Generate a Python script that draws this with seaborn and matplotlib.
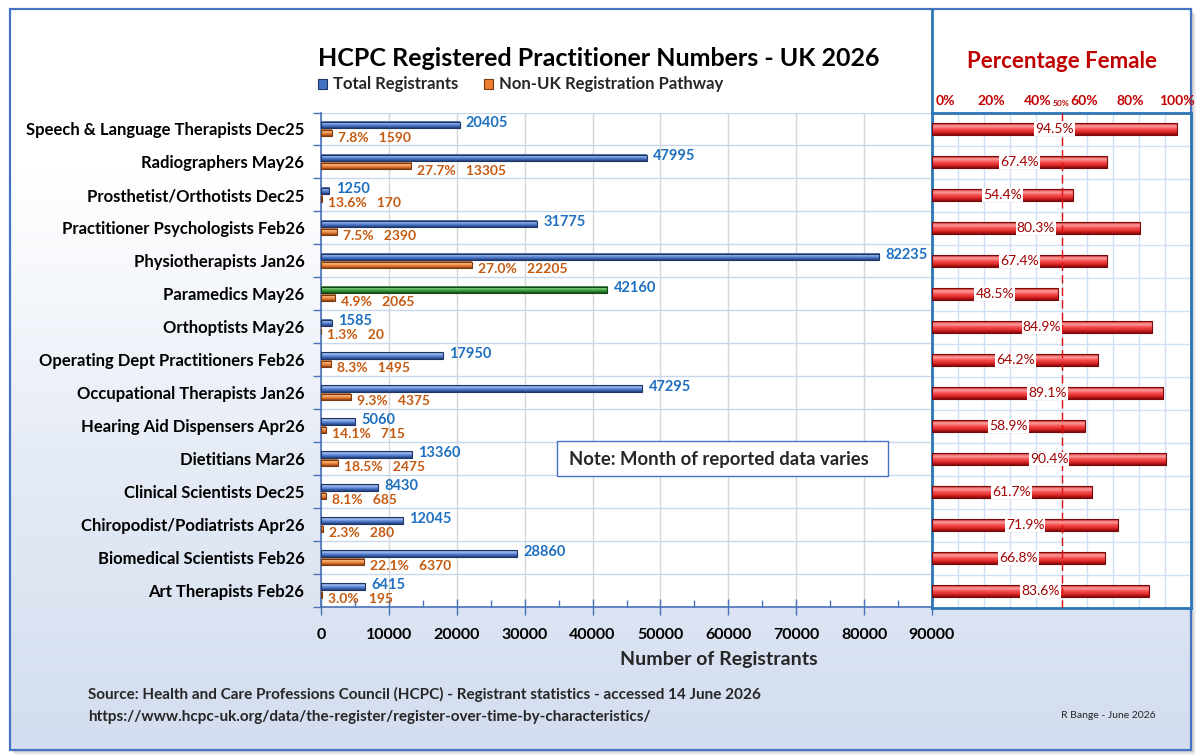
import numpy as np
import pandas as pd
import matplotlib
matplotlib.use("Agg")
import matplotlib.pyplot as plt
from matplotlib.colors import LinearSegmentedColormap
from matplotlib.patches import Rectangle
from matplotlib.lines import Line2D
import seaborn as sns

# ---------------- data ----------------
categories = [
    "Speech & Language Therapists Dec25",
    "Radiographers May26",
    "Prosthetist/Orthotists Dec25",
    "Practitioner Psychologists Feb26",
    "Physiotherapists Jan26",
    "Paramedics May26",
    "Orthoptists May26",
    "Operating Dept Practitioners Feb26",
    "Occupational Therapists Jan26",
    "Hearing Aid Dispensers Apr26",
    "Dietitians Mar26",
    "Clinical Scientists Dec25",
    "Chiropodist/Podiatrists Apr26",
    "Biomedical Scientists Feb26",
    "Art Therapists Feb26",
]
total_registrants = [20405, 47995, 1250, 31775, 82235, 42160, 1585, 17950,
                     47295, 5060, 13360, 8430, 12045, 28860, 6415]
non_uk_registrants = [1590, 13305, 170, 2390, 22205, 2065, 20, 1495,
                      4375, 715, 2475, 685, 280, 6370, 195]
non_uk_pct = [7.8, 27.7, 13.6, 7.5, 27.0, 4.9, 1.3, 8.3, 9.3, 14.1, 18.5,
              8.1, 2.3, 22.1, 3.0]
female_pct = [94.5, 67.4, 54.4, 80.3, 67.4, 48.5, 84.9, 64.2, 89.1, 58.9,
              90.4, 61.7, 71.9, 66.8, 83.6]
highlight_category = "Paramedics May26"
series_names = ["Total Registrants", "Non-UK Registration Pathway"]
x_ticks = [0, 10000, 20000, 30000, 40000, 50000, 60000, 70000, 80000, 90000]
pct_ticks = [0, 20, 40, 60, 80, 100]

# ---------------- style ----------------
sns.set_theme(style="white")
plt.rcParams["font.family"] = ["Lato", "DejaVu Sans"]

W, H = 1200, 756
fig = plt.figure(figsize=(W / 100, H / 100), dpi=100)
fig.patch.set_facecolor("white")


def fa(l, t, r, b):
    return [l / W, 1 - b / H, (r - l) / W, (b - t) / H]


GRAD = {
    "blue": ["#35589e", "#a9c3f0", "#6891dc", "#4069b9", "#233d78"],
    "orange": ["#b8602a", "#ffc894", "#f59b52", "#dc742f", "#874012"],
    "green": ["#2b772b", "#95dc95", "#4fb24f", "#2f8c2f", "#184c18"],
    "red": ["#c81818", "#ffa0a0", "#f45050", "#e02828", "#860a0a"],
}
EDGE = {"blue": "#1f3563", "orange": "#7a3a10", "green": "#164416", "red": "#7a0a0a"}


def grad_fill(ax, patch, key):
    x0, y0 = patch.get_x(), patch.get_y()
    w, h = patch.get_width(), patch.get_height()
    cmap = LinearSegmentedColormap.from_list("g_" + key, GRAD[key])
    arr = np.linspace(0, 1, 64).reshape(-1, 1)
    ax.imshow(arr, cmap=cmap, extent=[x0, x0 + w, y0 + h, y0], aspect="auto",
              origin="upper", zorder=3, interpolation="bilinear")
    patch.set_facecolor("none")
    patch.set_edgecolor(EDGE[key])
    patch.set_linewidth(0.8)
    patch.set_zorder(4)


# ---------------- background card ----------------
bg = fig.add_axes([0, 0, 1, 1], zorder=-10)
bg.set_xlim(0, W)
bg.set_ylim(H, 0)
bg.axis("off")
for off, a in [(5, 0.06), (4, 0.08), (3, 0.10), (2, 0.12)]:
    bg.add_patch(Rectangle((10 + off, 9 + off), 1181, 741, facecolor="#606060",
                           alpha=a, edgecolor="none"))
card_cmap = LinearSegmentedColormap.from_list(
    "card", [(0, "#ffffff"), (0.22, "#ffffff"), (0.6, "#e6ecf6"), (1, "#d3ddef")])
bg.imshow(np.linspace(0, 1, 256).reshape(-1, 1), cmap=card_cmap,
          extent=[10, 1191, 750, 9], aspect="auto", origin="upper", zorder=1)
bg.add_patch(Rectangle((10, 9), 1181, 741, facecolor="none", edgecolor="#4472c4",
                       lw=1.6, zorder=2))
bg.set_xlim(0, W)
bg.set_ylim(H, 0)

# ---------------- left chart ----------------
axL = fig.add_axes(fa(321, 112.5, 932, 607))
axL.set_facecolor("white")
df = pd.DataFrame({
    "category": categories * 2,
    "value": total_registrants + non_uk_registrants,
    "series": [series_names[0]] * len(categories) + [series_names[1]] * len(categories),
})
sns.barplot(data=df, x="value", y="category", hue="series", hue_order=series_names,
            orient="h", dodge=True, width=0.5, palette=["#4472c4", "#ed7d31"],
            legend=False, ax=axL, errorbar=None)

for p in list(axL.patches):
    c = p.get_y() + p.get_height() / 2
    idx = int(round(c))
    is_total = c < idx
    nh = 0.19
    p.set_y(c - nh / 2)
    p.set_height(nh)
    if is_total:
        key = "green" if categories[idx] == highlight_category else "blue"
    else:
        key = "orange"
    grad_fill(axL, p, key)

for i in range(len(categories)):
    axL.text(total_registrants[i] + 950, i - 0.18, f"{total_registrants[i]}",
             color="#1f70c1", fontsize=10.5, fontweight="bold", ha="left", va="center",
             zorder=6)
    axL.text(non_uk_registrants[i] + 900, i + 0.26,
             f"{non_uk_pct[i]:.1f}%   {non_uk_registrants[i]}",
             color="#c55a11", fontsize=10, fontweight="bold", ha="left", va="center",
             zorder=6)

axL.set_xlim(0, 90000)
axL.set_ylim(len(categories) - 0.5, -0.5)
axL.set_xticks(x_ticks)
axL.set_xticklabels([str(t) for t in x_ticks])
axL.set_xticks(np.arange(5000, 90000, 10000), minor=True)
axL.set_yticks(range(len(categories)))
axL.set_yticks(np.arange(-0.5, len(categories), 1.0), minor=True)
axL.set_xlabel("")
axL.set_ylabel("")
axL.grid(False)
axL.xaxis.grid(True, which="major", color="#d6d6d6", lw=1, zorder=0)
axL.yaxis.grid(True, which="minor", color="#c8d7ec", lw=1, zorder=0)
axL.set_axisbelow(True)
for s in ["top", "right"]:
    axL.spines[s].set_visible(False)
for s in ["left", "bottom"]:
    axL.spines[s].set_color("#4a72b8")
    axL.spines[s].set_linewidth(1.2)
axL.tick_params(axis="x", which="major", direction="inout", length=12, width=1,
                color="#4a72b8", pad=9, labelsize=11.5, bottom=True)
axL.tick_params(axis="x", which="minor", direction="in", length=5, width=1,
                color="#4a72b8", bottom=True)
axL.tick_params(axis="y", which="major", length=0, pad=12, labelsize=12, left=True)
axL.tick_params(axis="y", which="minor", direction="out", length=6, width=1,
                color="#4a72b8", left=True)
for lab in axL.get_xticklabels() + axL.get_yticklabels():
    lab.set_fontweight("bold")
    lab.set_color("black")

# ---------------- right chart ----------------
axR = fig.add_axes(fa(932, 112.5, 1191, 607.5))
axR.set_facecolor("white")
sns.barplot(x=female_pct, y=categories, orient="h", width=0.34, color="#e02828",
            ax=axR, errorbar=None)
for p in list(axR.patches):
    grad_fill(axR, p, "red")
for i, v in enumerate(female_pct):
    axR.text(v / 2, i, f"{v:.1f}%", ha="center", va="center", color="#a00000",
             fontsize=10, zorder=6,
             bbox=dict(boxstyle="square,pad=0.08", facecolor="white", edgecolor="none"))
axR.axvline(50, color="#e01010", lw=1, ls=(0, (6, 3)), zorder=5)
axR.set_xlim(0, 100)
axR.set_ylim(len(categories) - 0.5, -0.5)
axR.set_xticks(np.arange(0, 101, 10))
axR.set_yticks(np.arange(-0.5, len(categories), 1.0))
axR.set_xticklabels([])
axR.set_yticklabels([])
axR.set_xlabel("")
axR.set_ylabel("")
axR.grid(True, color="#cfe0f3", lw=1, zorder=0)
axR.set_axisbelow(True)
axR.tick_params(length=0)
for s in axR.spines.values():
    s.set_color("#2e75b6")
    s.set_linewidth(2)

axT = axR.twiny()
axT.set_xlim(-5.6, 106)
axT.set_xticks(pct_ticks + [50])
axT.set_xticklabels([f"{t}%" for t in pct_ticks] + ["50%"])
axT.tick_params(axis="x", length=0, pad=4, labelsize=10, colors="#c00000")
for lab in axT.get_xticklabels():
    lab.set_fontweight("bold")
axT.get_xticklabels()[-1].set_fontsize(6)
for s in axT.spines.values():
    s.set_visible(False)
axT.grid(False)

# ---------------- overlay text ----------------
ov = fig.add_axes([0, 0, 1, 1], zorder=10)
ov.set_xlim(0, W)
ov.set_ylim(H, 0)
ov.axis("off")
ov.patch.set_alpha(0)
ov.add_line(Line2D([932, 932], [9, 113], color="#2e75b6", lw=2))

ov.text(318, 58, "HCPC Registered Practitioner Numbers - UK 2026", fontsize=18,
        fontweight="bold", ha="left", va="center", color="black")
ov.add_patch(Rectangle((318, 79), 9, 10, facecolor="#4472c4", edgecolor="#1f3563", lw=0.8))
ov.text(333, 84, series_names[0], fontsize=12, fontweight="bold", ha="left", va="center")
ov.add_patch(Rectangle((484, 79), 9, 10, facecolor="#ed7d31", edgecolor="#7a3a10", lw=0.8))
ov.text(499, 84, series_names[1], fontsize=12, fontweight="bold", ha="left", va="center")

ov.text(1062, 62, "Percentage Female", fontsize=16, fontweight="bold", color="#c00000",
        ha="center", va="center")

ov.add_patch(Rectangle((557, 441), 331, 35, facecolor="white", edgecolor="#4472c4", lw=1))
ov.text(569, 459, "Note: Month of reported data varies", fontsize=13.3,
        fontweight="bold", ha="left", va="center")

ov.text(719, 660, "Number of Registrants", fontsize=14, fontweight="bold",
        ha="center", va="center")
ov.text(88, 694, "Source: Health and Care Professions Council (HCPC) - Registrant "
        "statistics - accessed 14 June 2026", fontsize=11, fontweight="bold",
        ha="left", va="center")
ov.text(88, 717, "https://www.hcpc-uk.org/data/the-register/register-over-time-by-"
        "characteristics/", fontsize=11, fontweight="bold", ha="left", va="center")
ov.text(1061, 715, "R Bange - June 2026", fontsize=7.5, ha="left", va="center")

fig.savefig("out.png", dpi=100, facecolor=fig.get_facecolor())
